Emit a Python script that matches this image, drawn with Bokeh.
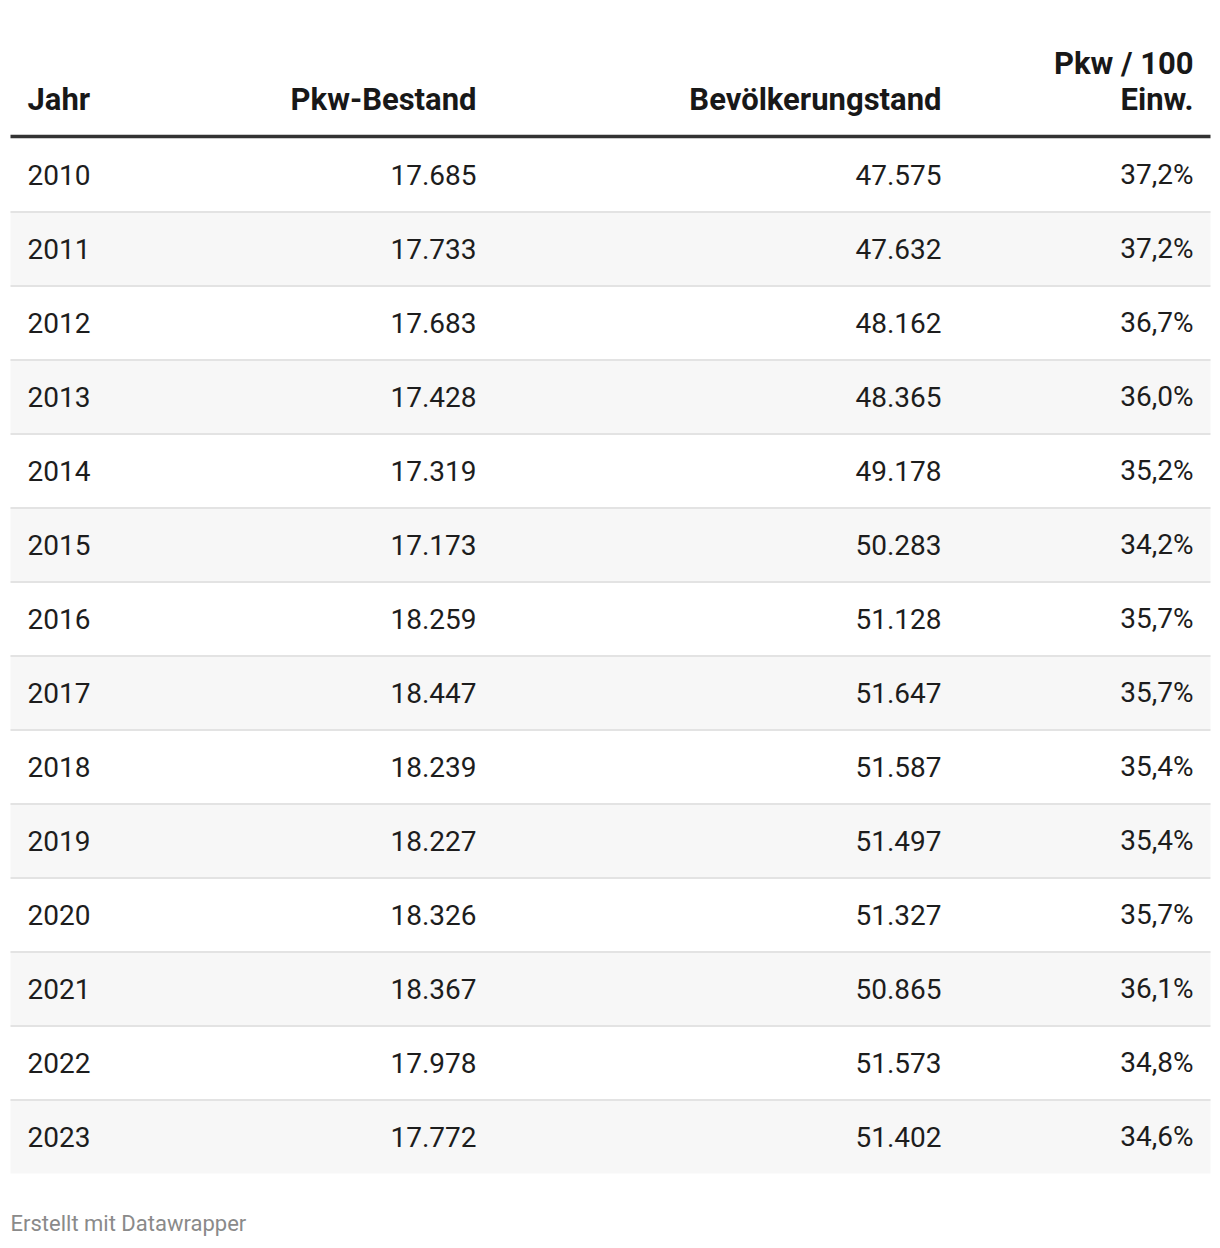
from bokeh.plotting import figure
from bokeh.models import Range1d, ColumnDataSource
from bokeh.core.properties import value
from bokeh.embed import file_html
from bokeh.resources import INLINE

# ---- data ----
headers = ["Jahr", "Pkw-Bestand", "Bevölkerungstand", "Pkw / 100\nEinw."]
years = [2010, 2011, 2012, 2013, 2014, 2015, 2016, 2017, 2018, 2019, 2020, 2021, 2022, 2023]
pkw_bestand = [17685, 17733, 17683, 17428, 17319, 17173, 18259, 18447, 18239, 18227, 18326, 18367, 17978, 17772]
bevoelkerung = [47575, 47632, 48162, 48365, 49178, 50283, 51128, 51647, 51587, 51497, 51327, 50865, 51573, 51402]
pkw_pro_100 = [37.2, 37.2, 36.7, 36.0, 35.2, 34.2, 35.7, 35.7, 35.4, 35.4, 35.7, 36.1, 34.8, 34.6]
footer = "Erstellt mit Datawrapper"

def de_int(v):
    return f"{v:,}".replace(",", ".")

def de_pct(v):
    return f"{v:.1f}".replace(".", ",") + "%"

# ---- layout (picture pixel coordinates) ----
W, H = 1220, 1248
left, right = 10, 1210
col_x = [27, 476, 941, 1193]
col_align = ["left", "right", "right", "right"]
row_top0 = 137
row_h = 74
n = len(years)
txt_shift = 11  # rendered baseline sits lower than the anchor

p = figure(width=W, height=H, output_backend="svg", toolbar_location=None,
           x_range=Range1d(0, W), y_range=Range1d(H, 0),
           min_border=0, outline_line_color=None)
p.axis.visible = False
p.grid.visible = False
p.background_fill_color = "white"
p.border_fill_color = "white"

tops = [row_top0 + i * row_h for i in range(n)]
bottoms = [t + row_h for t in tops]
fills = ["#ffffff" if i % 2 == 0 else "#f7f7f7" for i in range(n)]
p.quad(left=left, right=right, top=tops, bottom=bottoms, fill_color=fills, line_color=None)

# row separators
sep_y = [b + 0.5 for b in bottoms[:-1]]
p.segment(x0=left, x1=right, y0=sep_y, y1=sep_y, line_color="#e3e3e3", line_width=2)

# header rule
p.segment(x0=[left], x1=[right], y0=[136], y1=[136], line_color="#333333", line_width=3.5)

# cells
cols = [[str(y) for y in years], [de_int(v) for v in pkw_bestand],
        [de_int(v) for v in bevoelkerung], [de_pct(v) for v in pkw_pro_100]]
baselines = [t + 48 - txt_shift for t in tops]
for c, vals in enumerate(cols):
    src = ColumnDataSource(dict(x=[col_x[c]] * n, y=baselines, t=vals))
    p.text(x="x", y="y", text="t", source=src, text_align=col_align[c],
           text_baseline="alphabetic", text_font=value("Roboto"),
           text_font_size="28px", text_color="#1d1d1d")

# headers (bottom aligned, multi-line)
for c, h in enumerate(headers):
    lines = h.split("\n")
    ys = [110 - txt_shift - 36 * (len(lines) - 1 - k) for k in range(len(lines))]
    p.text(x=[col_x[c]] * len(lines), y=ys, text=lines, text_align=col_align[c],
           text_baseline="alphabetic", text_font=value("Roboto"),
           text_font_style="bold", text_font_size="31px", text_color="#181818")

p.text(x=[10], y=[1232 - 9], text=[footer], text_align="left", text_baseline="alphabetic",
       text_font=value("Roboto"), text_font_size="22px", text_color="#8a8a8a")

open("out.html", "w").write(file_html(p, INLINE))
